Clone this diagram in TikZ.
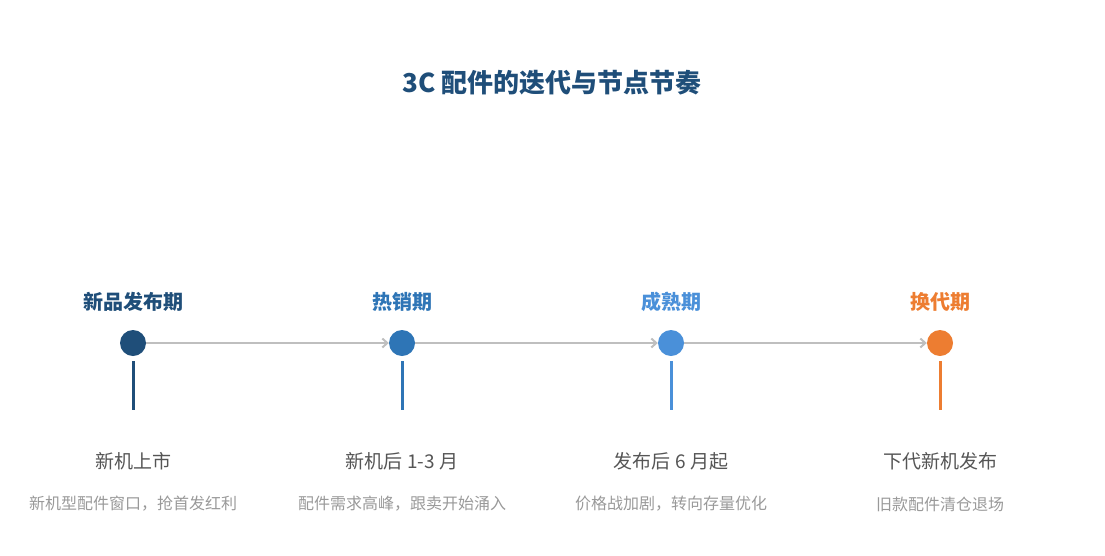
\documentclass[tikz,border=0pt]{standalone}
\usepackage{fontspec}
\setmainfont{Noto Sans CJK SC}
\usetikzlibrary{arrows.meta}
\definecolor{cA}{HTML}{1F4E79}
\definecolor{cB}{HTML}{2E75B6}
\definecolor{cC}{HTML}{4A90D9}
\definecolor{cD}{HTML}{ED7D31}
\definecolor{txt}{HTML}{555555}
\definecolor{sub}{HTML}{999999}
\begin{document}
\begin{tikzpicture}[x=1pt,y=-1pt,
    dot/.style={circle,fill=#1,minimum size=26pt,inner sep=0pt},
    stem/.style={draw=#1,line width=3pt},
    phase/.style={font=\fontsize{20}{24}\selectfont\bfseries,text=#1},
    what/.style={font=\fontsize{19}{23}\selectfont,text=txt},
    note/.style={font=\fontsize{16}{20}\selectfont,text=sub},
    link/.style={draw=black!25,line width=2pt,-{Straight Barb[length=5pt,width=9pt]}}]
  \useasboundingbox (0,0) rectangle (1105,555);

  \node[font=\fontsize{26}{30}\selectfont\bfseries,text=cA] (title) at (552,83) {3C 配件的迭代与节点节奏};

  \foreach \n/\x/\c/\p/\w/\s in {
      a/133/cA/新品发布期/新机上市/{新机型配件窗口，抢首发红利},
      b/402/cB/热销期/新机后 1-3 月/{配件需求高峰，跟卖开始涌入},
      c/671/cC/成熟期/发布后 6 月起/{价格战加剧，转向存量优化},
      d/940/cD/换代期/下代新机发布/{旧款配件清仓退场}} {
    \node[dot=\c] (\n) at (\x,343) {};
    \node[phase=\c] (\n-p) at (\x,302) {\p};
    \coordinate (\n-t) at (\x,361);
    \coordinate (\n-b) at (\x,410);
    \path[stem=\c] (\n-t) -- (\n-b);
    \node[what] (\n-w) at (\x,461) {\w};
    \node[note] (\n-s) at (\x,504) {\s};
  }

  \path[link] (a) -- (b);
  \path[link] (b) -- (c);
  \path[link] (c) -- (d);
\end{tikzpicture}
\end{document}
